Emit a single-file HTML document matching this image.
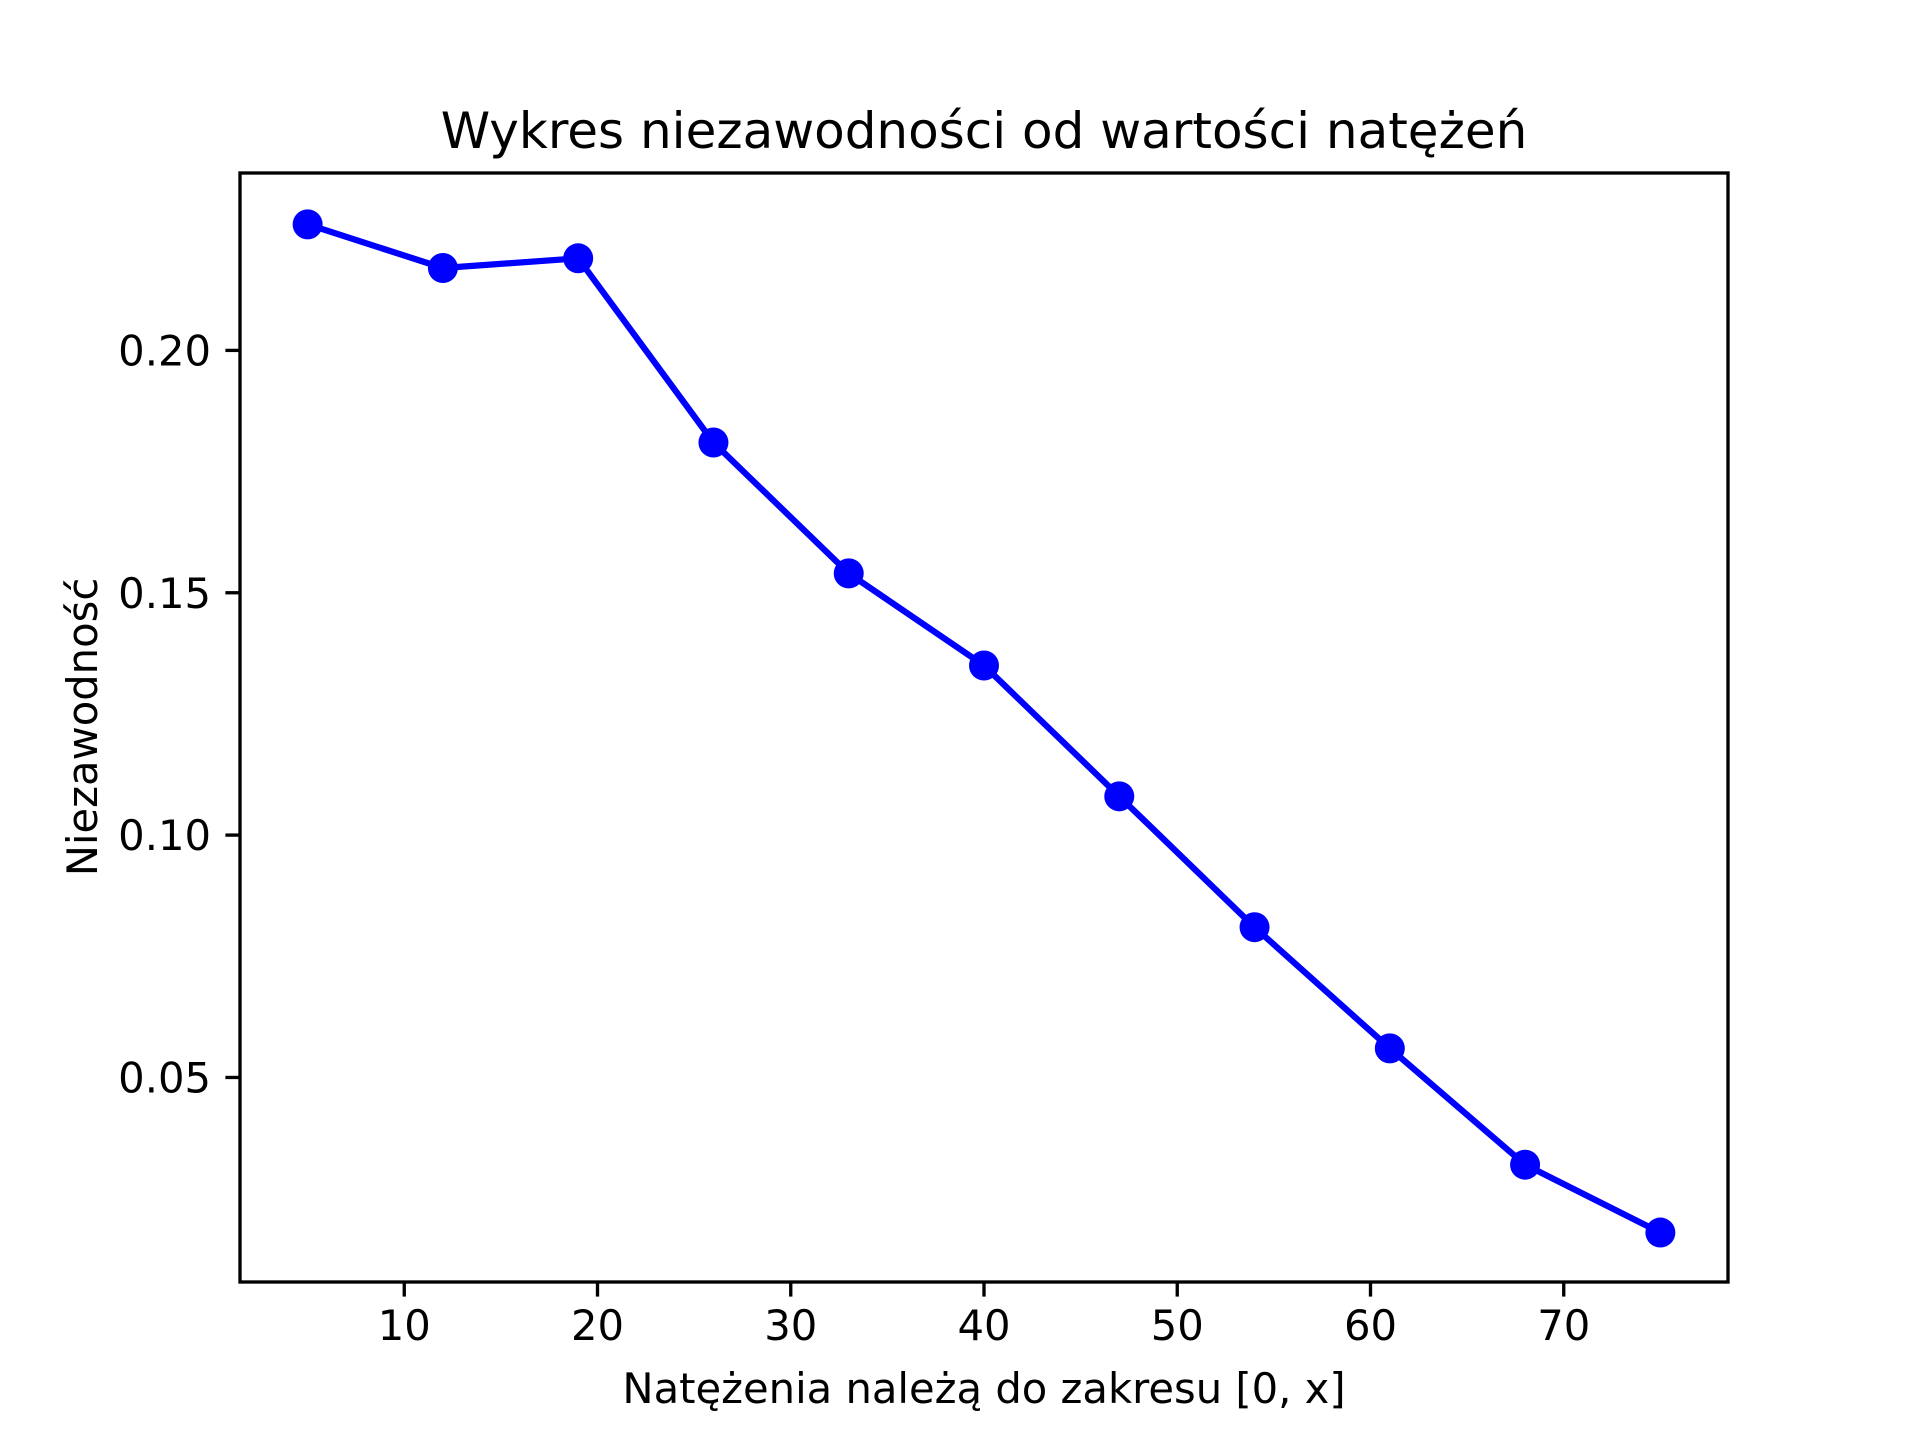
<!DOCTYPE html>
<html><head><meta charset="utf-8"><style>
html,body{margin:0;padding:0;background:#fff;}
svg{display:block;font-family:"DejaVu Sans","Liberation Sans",sans-serif;}
</style></head><body>
<svg id="chart" width="1920" height="1440" viewBox="0 0 1920 1440">
<rect width="1920" height="1440" fill="#fff"/>
<text x="984" y="148" font-size="50" text-anchor="middle" fill="#000">Wykres niezawodności od wartości natężeń</text>
<g id="ticks"></g>
<g id="series"></g>
<rect x="240" y="173" width="1488" height="1109" fill="none" stroke="#000" stroke-width="3.33"/>
<text x="984" y="1403" font-size="41.7" text-anchor="middle" fill="#000">Natężenia należą do zakresu [0, x]</text>
<text transform="translate(97,727) rotate(-90)" font-size="41.7" text-anchor="middle" fill="#000">Niezawodność</text>
</svg>
<script>
const xValues = [5, 12, 19, 26, 33, 40, 47, 54, 61, 68, 75];
const yValues = [0.226, 0.217, 0.219, 0.181, 0.154, 0.135, 0.108, 0.081, 0.056, 0.032, 0.018];
const xTicks = [10, 20, 30, 40, 50, 60, 70];
const yTicks = [0.05, 0.10, 0.15, 0.20];
const yTickLabels = ["0.05", "0.10", "0.15", "0.20"];

const L=240,R=1728,T=173,B=1282;
const xMin=1.5,xMax=78.5,yMin=0.0078,yMax=0.2366;
function sx(v){return L+(v-xMin)/(xMax-xMin)*(R-L);}
function sy(v){return B-(v-yMin)/(yMax-yMin)*(B-T);}
const NS="http://www.w3.org/2000/svg";
const tg=document.getElementById('ticks'), sg=document.getElementById('series');
function mk(tag,attrs,parent){const e=document.createElementNS(NS,tag);for(const k in attrs)e.setAttribute(k,attrs[k]);parent.appendChild(e);return e;}
xTicks.forEach(v=>{
  const x=sx(v);
  const l=mk('line',{x1:x,x2:x,y1:B,y2:B+14.6,stroke:'#000','stroke-width':3.33},tg);
  
  
  const t=mk('text',{x:x,y:B+58,'font-size':41.7,'text-anchor':'middle',fill:'#000'},tg);
  t.textContent=String(v);
  
  
});
yTicks.forEach((v,i)=>{
  const y=sy(v);
  const l=mk('line',{x1:L-14.6,x2:L,y1:y,y2:y,stroke:'#000','stroke-width':3.33},tg);
  
  
  const t=mk('text',{x:L-29,y:y+15,'font-size':41.7,'text-anchor':'end',fill:'#000'},tg);
  t.textContent=yTickLabels[i];
  
  
});
const pts=xValues.map((x,i)=>sx(x)+','+sy(yValues[i])).join(' ');
const pl=mk('polyline',{points:pts,fill:'none',stroke:'#0000ff','stroke-width':6.25,'stroke-linejoin':'round','stroke-linecap':'square'},sg);


xValues.forEach((x,i)=>{
  const c=mk('circle',{cx:sx(x),cy:sy(yValues[i]),r:15,fill:'#0000ff'},sg);
  
  
});
</script>
</body></html>
